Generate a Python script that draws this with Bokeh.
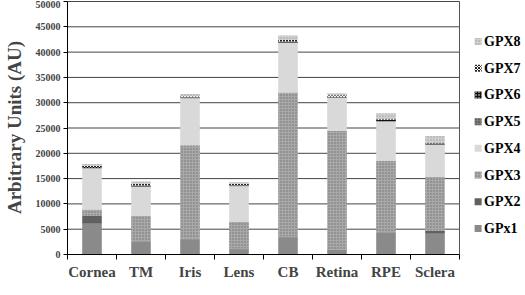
from bokeh.plotting import figure
from bokeh.models import Range1d, FixedTicker, ColumnDataSource, NumeralTickFormatter
from bokeh.core.properties import value
from bokeh.embed import file_html
from bokeh.resources import INLINE

categories = ["Cornea", "TM", "Iris", "Lens", "CB", "Retina", "RPE", "Sclera"]
series = ["GPx1", "GPX2", "GPX3", "GPX4", "GPX5", "GPX6", "GPX7", "GPX8"]
gpx1 = [6100, 2500, 3000, 1000, 3400, 900, 4300, 4100]
gpx2 = [1600, 100, 100, 200, 100, 100, 100, 600]
gpx3 = [1200, 5000, 18500, 5200, 28500, 23400, 14100, 10600]
gpx4 = [8100, 5800, 9300, 7100, 9800, 6600, 7800, 6400]
gpx5 = [100, 50, 50, 50, 100, 50, 100, 50]
gpx6 = [200, 200, 150, 150, 200, 150, 200, 200]
gpx7 = [200, 300, 200, 250, 300, 250, 150, 100]
gpx8 = [400, 500, 400, 350, 900, 400, 1150, 1350]
y_ticks = [0, 5000, 10000, 15000, 20000, 25000, 30000, 35000, 40000, 45000, 50000]

values = [gpx1, gpx2, gpx3, gpx4, gpx5, gpx6, gpx7, gpx8]
n_cat = len(categories)
centers = [i + 0.5 for i in range(n_cat)]
bounds = [float(i) for i in range(n_cat + 1)]
y_max = y_ticks[-1]

data = {"x": centers}
for name, vals in zip(series, values):
    data[name] = vals
source = ColumnDataSource(data)

FONT = "Liberation Serif"
PX_PER_CAT = 49
FRAME_W = 455

p = figure(frame_width=FRAME_W, frame_height=254, output_backend="svg", toolbar_location=None,
           x_range=Range1d(0, FRAME_W / PX_PER_CAT), y_range=Range1d(0, y_max * 1.004),
           min_border_left=54, min_border_right=0, min_border_top=0, min_border_bottom=0)
p.outline_line_color = None
p.xgrid.visible = False
p.ygrid.visible = False

# gridlines and plot box (drawn as glyphs)
p.segment(x0=[0] * len(y_ticks), x1=[n_cat] * len(y_ticks), y0=y_ticks, y1=y_ticks,
          line_color="#454545", line_width=1)
p.segment(x0=[n_cat], x1=[n_cat], y0=[0], y1=[y_max], line_color="#555555", line_width=1)

fills = ["#8a8a8a", "#606060", "#a9a9a9", "#d9d9d9", "#7a7a7a", "#111111", "#ffffff", "#cfcfcf"]
hatches = [" ", " ", "dot", " ", "dot", "dot", "diagonal_cross", "dot"]
hcolors = ["#8a8a8a", "#606060", "#707070", "#d9d9d9", "#404040", "#ffffff", "#222222", "#a0a0a0"]

p.vbar_stack(series, x="x", width=0.4, source=source,
             fill_color=fills, line_color=None,
             hatch_pattern=hatches, hatch_color=hcolors,
             hatch_scale=3, hatch_weight=1)

ya = p.yaxis[0]
ya.ticker = FixedTicker(ticks=y_ticks)
ya.formatter = NumeralTickFormatter(format="0")
ya.bounds = (0, y_max)
ya.axis_line_color = "black"
ya.major_tick_out = 4
ya.major_tick_in = 0
ya.minor_tick_line_color = None
ya.major_label_text_font = FONT
ya.major_label_text_font_style = "bold"
ya.major_label_text_font_size = "10px"
ya.major_label_standoff = 3
ya.axis_label = "Arbitrary Units (AU)"
ya.axis_label_text_font = FONT
ya.axis_label_text_font_style = "bold"
ya.axis_label_text_font_size = "19px"
ya.axis_label_standoff = 8

xa = p.xaxis[0]
xa.ticker = FixedTicker(ticks=centers, minor_ticks=bounds)
xa.major_label_overrides = {c: n for c, n in zip(centers, categories)}
xa.bounds = (0, n_cat)
xa.axis_line_color = "black"
xa.major_tick_line_color = None
xa.minor_tick_line_color = "black"
xa.minor_tick_out = 5
xa.minor_tick_in = 0
xa.major_label_text_font = FONT
xa.major_label_text_font_style = "bold"
xa.major_label_text_font_size = "15px"
xa.major_label_standoff = 3

# legend drawn as glyphs, top entry GPX8
leg_names = series[::-1]
leg_fills = fills[::-1]
leg_hatches = hatches[::-1]
leg_hcolors = hcolors[::-1]
leg_top = 42100
leg_step = 5280
leg_y = [leg_top - k * leg_step for k in range(len(leg_names))]
sw_x = [n_cat + 0.38] * len(leg_names)
tx_x = [n_cat + 0.50] * len(leg_names)
p.rect(x=sw_x, y=leg_y, width=7, height=7, width_units="screen", height_units="screen",
       fill_color=leg_fills, line_color=None, hatch_pattern=leg_hatches,
       hatch_color=leg_hcolors, hatch_scale=3, hatch_weight=1)
p.text(x=tx_x, y=leg_y, text=leg_names, text_baseline="middle", text_align="left",
       text_font=value(FONT), text_font_style="bold", text_font_size="14px", text_color="black")

open("out.html", "w").write(file_html(p, INLINE))
